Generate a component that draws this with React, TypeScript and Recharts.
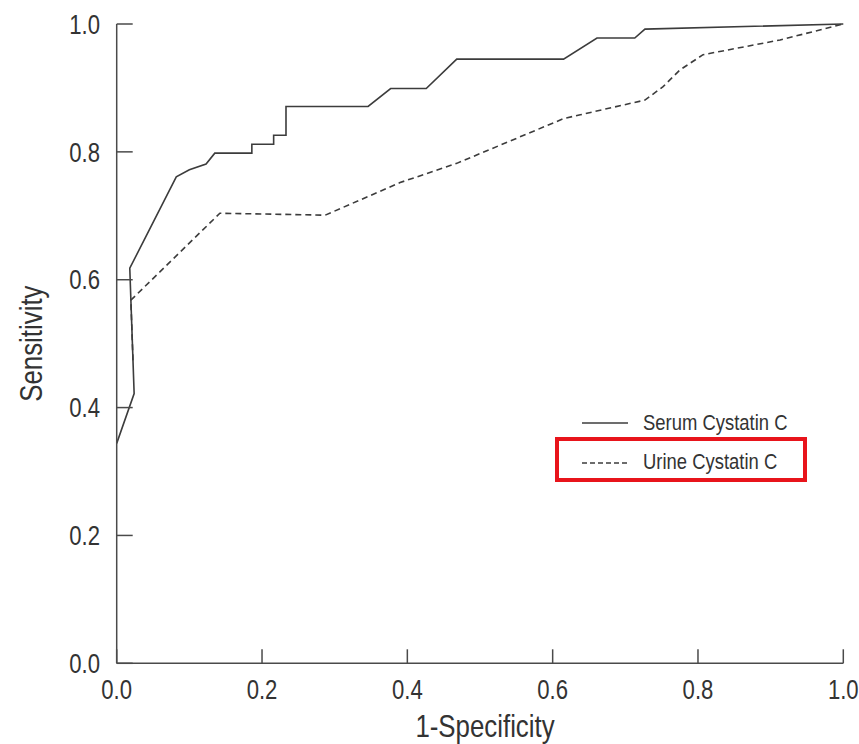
import React from 'react';
import { LineChart, Line, XAxis, YAxis, Legend } from 'recharts';

// ROC curves: [1-specificity, sensitivity]
const serumPoints: [number, number][] = [
  [0, 0.344], [0.024, 0.422], [0.018, 0.618], [0.082, 0.761], [0.1, 0.772],
  [0.123, 0.781], [0.135, 0.798], [0.186, 0.798], [0.186, 0.812], [0.216, 0.812],
  [0.216, 0.826], [0.233, 0.826], [0.233, 0.871], [0.346, 0.871], [0.377, 0.899],
  [0.426, 0.899], [0.468, 0.945], [0.615, 0.945], [0.661, 0.978], [0.713, 0.978],
  [0.727, 0.992], [1, 1],
];

const urinePoints: [number, number][] = [
  [0.0224, 0.474], [0.0195, 0.568], [0.142, 0.704], [0.287, 0.701], [0.39, 0.752],
  [0.468, 0.782], [0.615, 0.852], [0.638, 0.858], [0.727, 0.881], [0.752, 0.902],
  [0.775, 0.928], [0.807, 0.952], [0.83, 0.957], [0.913, 0.975], [1, 1],
];

const axisTicks = [0, 0.2, 0.4, 0.6, 0.8, 1.0];
const seriesNames = ['Serum Cystatin C', 'Urine Cystatin C'];

const toRows = (pts: [number, number][]) => pts.map(([fpr, tpr]) => ({ fpr, tpr }));
const serumData = toRows(serumPoints);
const urineData = toRows(urinePoints);

const FONT = '"Liberation Sans", Arial, sans-serif';
const AXIS = '#4a4a4a';
const TEXT = '#333';
const LINE = '#3c3c3c';
const SQUEEZE = 0.82; // narrow the glyphs to a condensed look

type CTextProps = {
  x: number;
  y: number;
  size: number;
  anchor?: 'start' | 'middle' | 'end';
  angle?: number;
  children: React.ReactNode;
};

const CText = ({ x, y, size, anchor = 'start', angle = 0, children }: CTextProps) => (
  <text
    transform={`translate(${x}, ${y}) rotate(${angle}) scale(${SQUEEZE}, 1)`}
    textAnchor={anchor}
    dy="0.36em"
    fontFamily={FONT}
    fontSize={size}
    fill={TEXT}
  >
    {children}
  </text>
);

const XTick = (props: any) => (
  <CText x={props.x} y={props.y} size={27} anchor="middle">
    {Number(props.payload.value).toFixed(1)}
  </CText>
);

const YTick = (props: any) => (
  <CText x={props.x} y={props.y} size={27} anchor="end">
    {Number(props.payload.value).toFixed(1)}
  </CText>
);

const LegendBox = () => (
  <svg width={270} height={90} style={{ display: 'block', overflow: 'visible' }}>
    <line x1={34} y1={20} x2={80} y2={20} stroke={LINE} strokeWidth={1.5} />
    <CText x={95} y={19} size={22.5}>{seriesNames[0]}</CText>
    <line x1={34} y1={60} x2={80} y2={60} stroke={LINE} strokeWidth={1.5} strokeDasharray="5 3" />
    <CText x={95} y={58} size={22.5}>{seriesNames[1]}</CText>
    <rect x={9} y={36} width={248} height={41} fill="none" stroke="#e8141b" strokeWidth={4} />
  </svg>
);

export default function App() {
  return (
    <>
      {/* full-bleed chart: the tick label at 1.0 reaches the page edge */}
      <style>{'body { margin: 0; }'}</style>
      <LineChart
        width={859}
        height={744}
        margin={{ top: 24, right: 15.7, left: 0, bottom: 0 }}
      >
        <XAxis
          type="number"
          dataKey="fpr"
          domain={[0, 1]}
          ticks={axisTicks}
          height={80.7}
          tickSize={-14}
          tickMargin={40}
          stroke={AXIS}
          strokeWidth={1.5}
          tick={XTick}
          allowDuplicatedCategory={false}
          label={({ viewBox }: any) => (
            <CText x={viewBox.x + viewBox.width / 2 + 5} y={viewBox.y + 62} size={31.5} anchor="middle">
              1-Specificity
            </CText>
          )}
        />
        <YAxis
          type="number"
          dataKey="tpr"
          domain={[0, 1]}
          ticks={axisTicks}
          width={116.7}
          tickSize={-16}
          tickMargin={32.7}
          stroke={AXIS}
          strokeWidth={1.5}
          tick={YTick}
          label={({ viewBox }: any) => (
            <CText x={viewBox.x + 30.5} y={viewBox.y + viewBox.height / 2} size={31.5} anchor="middle" angle={-90}>
              Sensitivity
            </CText>
          )}
        />
        <Legend
          layout="horizontal"
          verticalAlign="middle"
          align="center"
          content={() => <LegendBox />}
          wrapperStyle={{ left: 548, top: 403, width: 270, height: 90 }}
        />
        <Line
          data={serumData}
          dataKey="tpr"
          name={seriesNames[0]}
          type="linear"
          stroke={LINE}
          strokeWidth={1.6}
          dot={false}
          activeDot={false}
          isAnimationActive={false}
        />
        <Line
          data={urineData}
          dataKey="tpr"
          name={seriesNames[1]}
          type="linear"
          stroke={LINE}
          strokeWidth={1.6}
          strokeDasharray="6 4"
          dot={false}
          activeDot={false}
          isAnimationActive={false}
        />
      </LineChart>
    </>
  );
}
